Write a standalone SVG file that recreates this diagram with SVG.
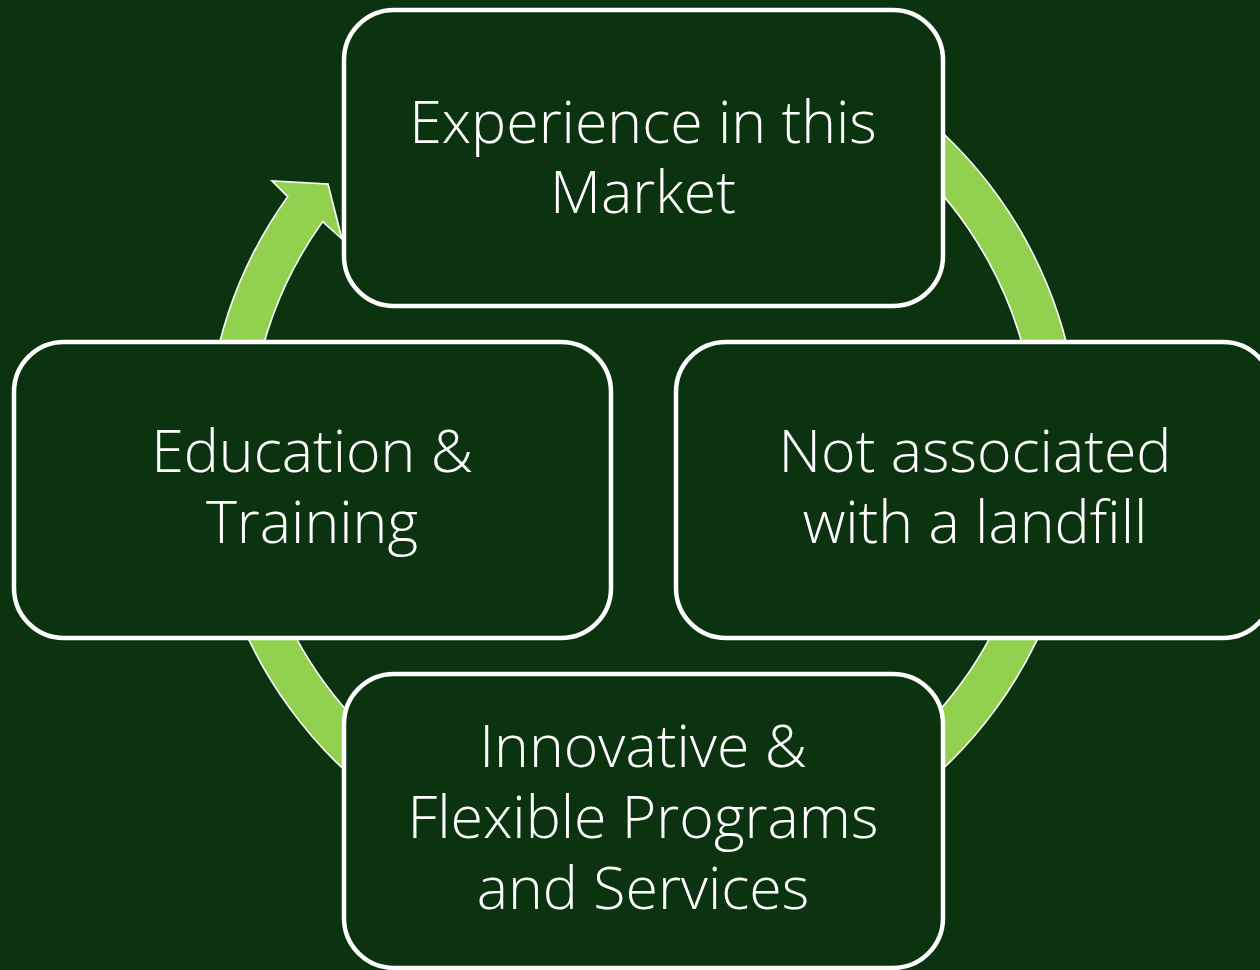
<svg xmlns="http://www.w3.org/2000/svg" width="1260" height="970" viewBox="0 0 1260 970">
<style>
.arc{fill:#92d050;stroke:#ffffff;stroke-width:1.6;stroke-linejoin:miter}
.box{fill:#0b3310;stroke:#ffffff;stroke-width:4.5}
.lbl{font-family:"Open Sans","Liberation Sans",sans-serif;font-weight:300;font-size:59px;fill:#ffffff;text-anchor:middle}
</style>
<rect x="0" y="0" width="1260" height="970" fill="#0b3310"/>
<g id="connectors">
<path class="arc" d="M 935.41 126.25 A 437 437 0 0 1 1073.36 375.12 L 1031.01 382.58 A 394 394 0 0 0 906.64 158.20 Z"/>
<path class="arc" d="M 1053.64 600.46 A 437 437 0 0 1 912.04 795.36 L 885.57 761.48 A 394 394 0 0 0 1013.24 585.76 Z"/>
<path class="arc" d="M 373.96 795.36 A 437 437 0 0 1 232.36 600.46 L 272.76 585.76 A 394 394 0 0 0 400.43 761.48 Z"/>
<path class="arc" d="M 212.64 375.12 A 437 437 0 0 1 287.68 196.61 L 272 181 L 328 184 L 342 239 L 322.64 221.64 A 394 394 0 0 0 254.99 382.58 Z"/>
</g>
<g id="node-experience">
<rect class="box" x="344" y="10" width="599" height="296" rx="50"/>
<text class="lbl" x="643" y="143">Experience in this</text>
<text class="lbl" x="643" y="213">Market</text>
</g>
<g id="node-education">
<rect class="box" x="14" y="342" width="597" height="296" rx="50"/>
<text class="lbl" x="312" y="472">Education &amp;</text>
<text class="lbl" x="312" y="543">Training</text>
</g>
<g id="node-landfill">
<rect class="box" x="676" y="342" width="597" height="296" rx="50"/>
<text class="lbl" x="975" y="472">Not associated</text>
<text class="lbl" x="975" y="543">with a landfill</text>
</g>
<g id="node-innovative">
<rect class="box" x="344" y="674" width="599" height="294" rx="50"/>
<text class="lbl" x="643" y="767">Innovative &amp;</text>
<text class="lbl" x="643" y="838">Flexible Programs</text>
<text class="lbl" x="643" y="909">and Services</text>
</g>
</svg>
